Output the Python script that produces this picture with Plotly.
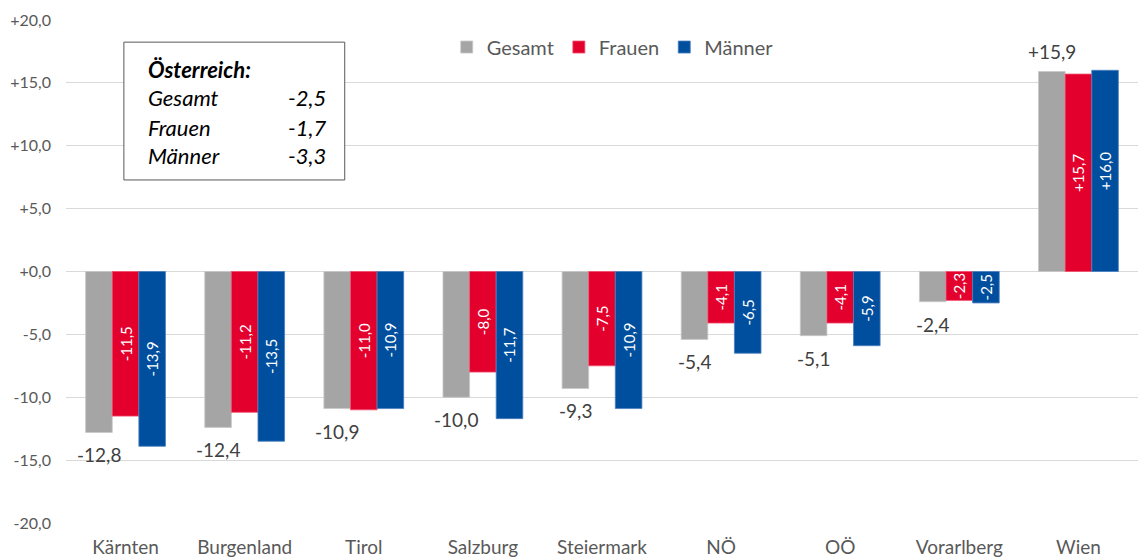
import plotly.graph_objects as go

regions = ["Kärnten", "Burgenland", "Tirol", "Salzburg", "Steiermark", "NÖ", "OÖ", "Vorarlberg", "Wien"]
gesamt = [-12.8, -12.4, -10.9, -10.0, -9.3, -5.4, -5.1, -2.4, 15.9]
frauen = [-11.5, -11.2, -11.0, -8.0, -7.5, -4.1, -4.1, -2.3, 15.7]
maenner = [-13.9, -13.5, -10.9, -11.7, -10.9, -6.5, -5.9, -2.5, 16.0]

tick_vals = [20, 15, 10, 5, 0, -5, -10, -15, -20]
tick_text = ["+20,0", "+15,0", "+10,0", "+5,0", "+0,0", "-5,0", "-10,0", "-15,0", "-20,0"]

box_title = "Österreich:"
box_labels = ["Gesamt", "Frauen", "Männer"]
box_values = [-2.5, -1.7, -3.3]

FONT = "Lato, Carlito, Calibri, sans-serif"
GRAY = "#A5A5A5"
RED = "#E3002C"
BLUE = "#004F9E"

W, H = 1138, 560
ML, MR, MT, MB = 66, 0, 20, 37
BARGAP = 0.33


def fmt(v):
    return f"{v:+.1f}".replace(".", ",")


def fmt_plain(v):
    return f"{v:.1f}".replace(".", ",")


fig = go.Figure()
fig.add_trace(go.Bar(
    name="Gesamt", x=regions, y=gesamt, marker_color=GRAY,
    marker_line=dict(color="#C8C8C8", width=0.8),
))
fig.add_trace(go.Bar(
    name="Frauen", x=regions, y=frauen, marker_color=RED,
    marker_line=dict(color="#F05070", width=0.8),
    text=[fmt(v) for v in frauen], textposition="inside", textangle=-90,
    insidetextanchor="middle",
    textfont=dict(size=15, color="white", family=FONT),
    constraintext="none",
))
fig.add_trace(go.Bar(
    name="Männer", x=regions, y=maenner, marker_color=BLUE,
    marker_line=dict(color="#4A7FC0", width=0.8),
    text=[fmt(v) for v in maenner], textposition="inside", textangle=-90,
    insidetextanchor="middle",
    textfont=dict(size=15, color="white", family=FONT),
    constraintext="none",
))

# Gesamt labels (outside, offset to the grey bar of each group)
cat_px = (W - ML - MR) / len(regions)
gray_offset = -(1 - BARGAP) / 3 * cat_px
for r, v in zip(regions, gesamt):
    fig.add_annotation(
        x=r, y=v, xref="x", yref="y", text=fmt(v), showarrow=False,
        xanchor="center", yanchor="top" if v < 0 else "bottom",
        xshift=gray_offset, yshift=-9 if v < 0 else 7,
        font=dict(size=19, color="#404040", family=FONT),
    )

# Österreich box
fig.add_shape(type="rect", xref="paper", yref="paper",
              x0=0.054, x1=0.26, y0=0.682, y1=0.956,
              line=dict(color="#595959", width=1), fillcolor="white", layer="above")
fig.add_annotation(xref="paper", yref="paper", x=0.075, y=0.9006, xanchor="left", yanchor="middle",
                   text=f"<b><i>{box_title}</i></b>", showarrow=False,
                   font=dict(size=22, color="black", family=FONT))
rows_y = [0.845, 0.787, 0.7316]
for lab, val, yy in zip(box_labels, box_values, rows_y):
    fig.add_annotation(xref="paper", yref="paper", x=0.075, y=yy, xanchor="left", yanchor="middle",
                       text=f"<i>{lab}</i>", showarrow=False,
                       font=dict(size=22, color="black", family=FONT))
    fig.add_annotation(xref="paper", yref="paper", x=0.2444, y=yy, xanchor="right", yanchor="middle",
                       text=f"<i>{fmt_plain(val)}</i>", showarrow=False,
                       font=dict(size=22, color="black", family=FONT))

fig.update_layout(
    width=W, height=H,
    margin=dict(l=ML, r=MR, t=MT, b=MB, autoexpand=False),
    paper_bgcolor="white", plot_bgcolor="white",
    barmode="group", bargap=BARGAP, bargroupgap=0,
    font=dict(family=FONT, color="#595959"),
    legend=dict(orientation="h", x=0.51, xanchor="center", y=0.985, yanchor="top",
                font=dict(size=20, color="#595959"), bgcolor="rgba(0,0,0,0)",
                itemwidth=30, traceorder="normal"),
    showlegend=True,
)
fig.update_yaxes(range=[-20, 20], tickvals=tick_vals, ticktext=tick_text,
                 showgrid=True, gridcolor="#D9D9D9", gridwidth=1,
                 zeroline=True, zerolinecolor="#D9D9D9", zerolinewidth=1,
                 tickfont=dict(size=16, color="#595959"), ticks="", ticklabelstandoff=14,
                 showline=False, automargin=False)
fig.update_xaxes(tickfont=dict(size=19, color="#595959"), showline=False, ticks="",
                 ticklabelstandoff=11, automargin=False)

fig.write_html("out.html", post_script="document.body.style.margin='0';",
               config={"displayModeBar": False})
